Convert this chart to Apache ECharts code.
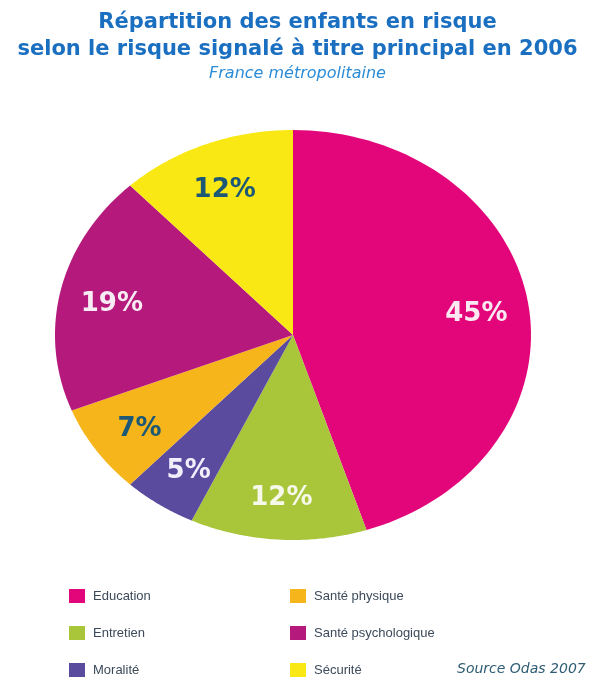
<!DOCTYPE html>
<html>
<head>
<meta charset="utf-8">
<script src="https://cdn.jsdelivr.net/npm/echarts@6/dist/echarts.min.js"></script>
<style>
  html, body { margin: 0; padding: 0; background: #fff; }
  #chart { width: 595px; height: 679px; }
</style>
</head>
<body>
<div id="chart"></div>
<script>
// categories, shares (%)
const categories = ['Education', 'Entretien', 'Moralité', 'Santé physique', 'Santé psychologique', 'Sécurité']
const shares = [45, 12, 5, 7, 19, 12]

const sliceColors = ['#e2067a', '#a9c63a', '#5b4b9f', '#f7b51c', '#b5197c', '#f9e814']
const labelColors = ['#fbe9f1', '#f6f8ea', '#f1f0fa', '#1d5877', '#f8ecf4', '#1d5877']

const chart = echarts.init(document.getElementById('chart'))

const total = shares.reduce((a, b) => a + b, 0)
const starts = []
let acc = 0
shares.forEach(v => { starts.push(acc); acc += v })

// one slice of an elliptical pie, drawn in a -1..1 cartesian frame
function renderSlice(params, api) {
  const start = api.value(0) / total * Math.PI * 2
  const end = (api.value(0) + api.value(1)) / total * Math.PI * 2
  const pts = [api.coord([0, 0])]
  const steps = 80
  for (let i = 0; i <= steps; i++) {
    const a = start + (end - start) * i / steps
    pts.push(api.coord([Math.sin(a), Math.cos(a)]))
  }
  const mid = (start + end) / 2
  const lp = api.coord([Math.sin(mid) * 0.78, Math.cos(mid) * 0.78])
  const idx = params.seriesIndex
  return {
    type: 'group',
    children: [
      { type: 'polygon', shape: { points: pts }, style: { fill: api.visual('color') } },
      {
        type: 'text',
        x: lp[0],
        y: lp[1] + 4,
        z2: 10,
        style: {
          text: shares[idx] + '%',
          fill: labelColors[idx],
          fontSize: 26,
          fontWeight: 'bold',
          fontFamily: 'DejaVu Sans',
          align: 'center',
          verticalAlign: 'middle'
        }
      }
    ]
  }
}

const legendText = {
  fontSize: 13,
  color: '#3c4a5a',
  padding: [0, 0, 0, 3],
  fontFamily: 'Liberation Sans, Arial, sans-serif'
}

chart.setOption({
  animation: false,
  title: [
    {
      text: 'Répartition des enfants en risque\nselon le risque signalé à titre principal en 2006',
      subtext: 'France métropolitaine',
      left: 'center',
      top: 9,
      itemGap: 2,
      padding: 0,
      textStyle: {
        fontSize: 21,
        lineHeight: 27,
        fontWeight: 'bold',
        fontFamily: 'DejaVu Sans, sans-serif',
        color: '#1b6fc0'
      },
      subtextStyle: {
        fontSize: 16,
        lineHeight: 18,
        fontStyle: 'italic',
        fontFamily: 'DejaVu Sans, sans-serif',
        color: '#2a8cd6'
      }
    },
    {
      text: 'Source Odas 2007',
      left: 457,
      top: 662,
      padding: 0,
      textStyle: {
        fontSize: 14,
        fontStyle: 'italic',
        fontWeight: 'normal',
        fontFamily: 'DejaVu Sans, sans-serif',
        color: '#2f5c74'
      }
    }
  ],
  legend: [
    {
      data: categories.slice(0, 3),
      orient: 'vertical',
      left: 69,
      top: 589,
      itemGap: 23,
      itemWidth: 16,
      itemHeight: 14,
      icon: 'rect',
      padding: 0,
      textStyle: legendText
    },
    {
      data: categories.slice(3),
      orient: 'vertical',
      left: 290,
      top: 589,
      itemGap: 23,
      itemWidth: 16,
      itemHeight: 14,
      icon: 'rect',
      padding: 0,
      textStyle: legendText
    }
  ],
  grid: { left: 55, top: 130, width: 476, height: 410 },
  xAxis: { type: 'value', min: -1, max: 1, show: false },
  yAxis: { type: 'value', min: -1, max: 1, show: false },
  series: categories.map((name, i) => ({
    name: name,
    type: 'custom',
    coordinateSystem: 'cartesian2d',
    clip: false,
    itemStyle: { color: sliceColors[i] },
    renderItem: renderSlice,
    data: [[starts[i], shares[i]]]
  }))
})
</script>
</body>
</html>
